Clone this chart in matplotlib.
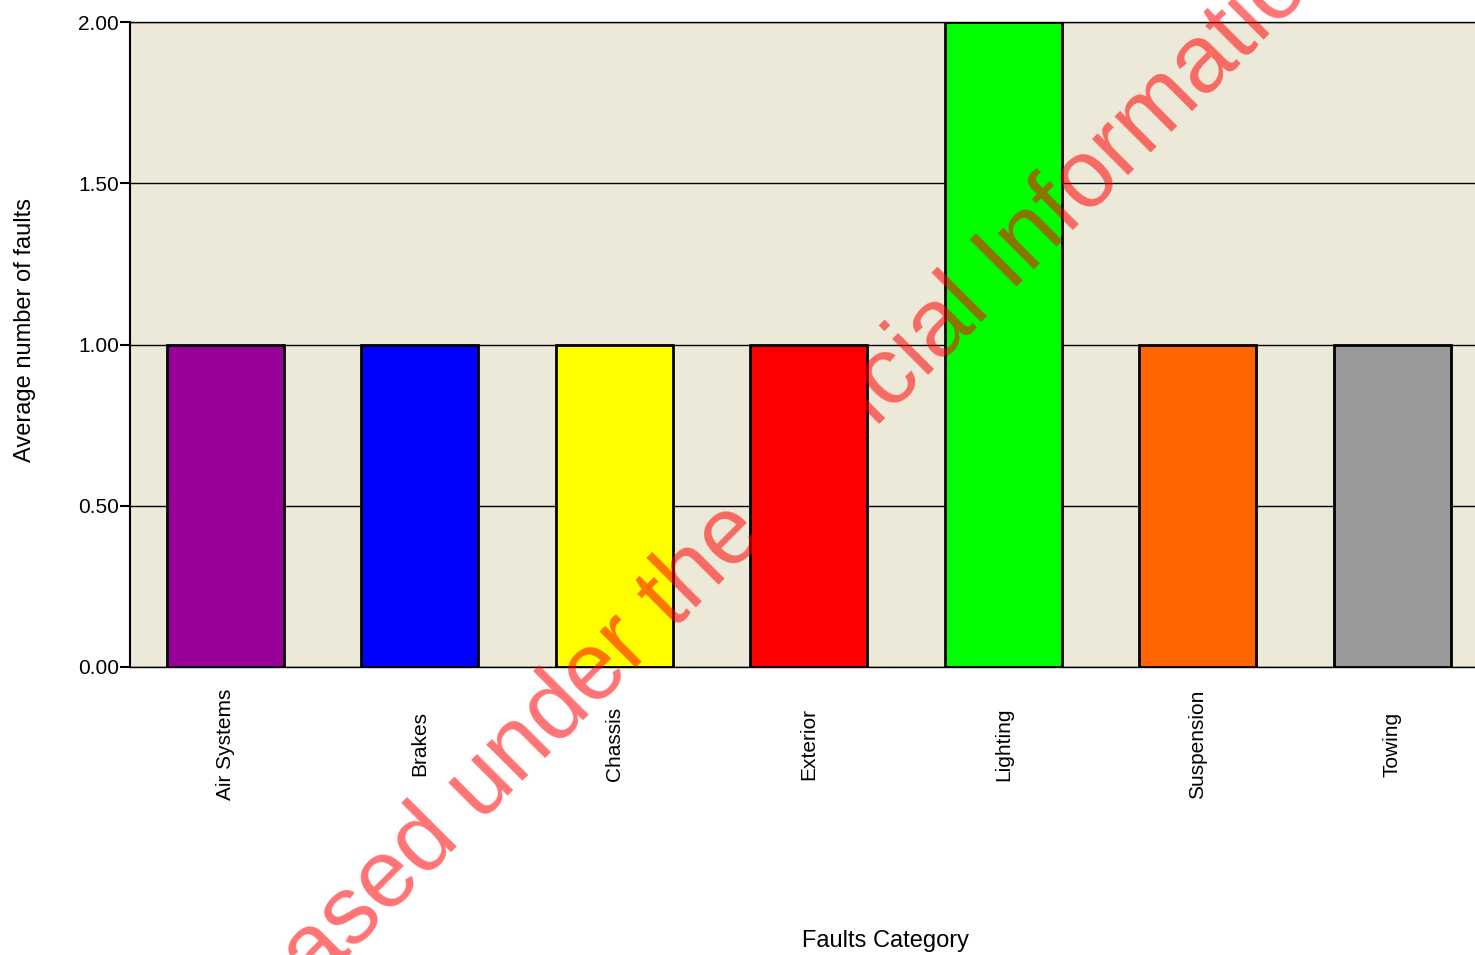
import numpy as np
import matplotlib
matplotlib.use('Agg')
import matplotlib.pyplot as plt

plt.rcParams['font.family'] = ['Liberation Sans', 'DejaVu Sans']

# Данные диаграммы
categories = ['Air Systems', 'Brakes', 'Chassis', 'Exterior',
              'Lighting', 'Suspension', 'Towing']
avg_faults = [1.0, 1.0, 1.0, 1.0, 2.0, 1.0, 1.0]
bar_colors = ['#990099', '#0000FF', '#FFFF00', '#FF0000',
              '#00FF00', '#FF6600', '#999999']
y_ticks = [0.0, 0.5, 1.0, 1.5, 2.0]

W, H = 1475, 955
fig = plt.figure(figsize=(W / 100, H / 100), dpi=100)
# ось выходит за правый край картинки (как на исходнике)
ax = fig.add_axes([130 / W, (H - 667) / H, 1361.5 / W, 645 / H])
ax.set_facecolor('#ECE9D8')

x = np.arange(len(categories)) + 0.5
ax.bar(x, avg_faults, width=0.6, color=bar_colors,
       edgecolor='black', linewidth=2, zorder=3)

ax.set_xlim(0.01, len(categories) + 0.01)
ax.set_ylim(0, 2.0)
ax.set_yticks(y_ticks)
ax.set_yticklabels(['{:.2f}'.format(v) for v in y_ticks], fontsize=15)
ax.set_xticks(x)
ax.set_xticklabels(categories, rotation=90, fontsize=15, va='center')
ax.tick_params(axis='x', length=0, pad=55.4)
ax.tick_params(axis='y', length=7, width=1.5, pad=1)

ax.yaxis.grid(True, color='black', linewidth=1, zorder=1)
ax.set_axisbelow(True)
ax.spines['right'].set_visible(False)
ax.spines['left'].set_linewidth(1.5)
ax.spines['top'].set_linewidth(1)
ax.spines['bottom'].set_linewidth(1)

fig.text(25 / W, 1 - 330 / H, 'Average number of faults', rotation=90,
         ha='center', va='center', fontsize=17)
fig.text(885 / W, 1 - 941 / H, 'Faults Category',
         ha='center', va='center', fontsize=17)

# водяной знак
fig.text(819 / W, 1 - 484 / H, 'Released under the Official Information Act',
         rotation=45, rotation_mode='anchor', ha='center', va='baseline',
         fontsize=69, color='red', alpha=0.55, zorder=10)

fig.savefig('out.png', dpi=100)
